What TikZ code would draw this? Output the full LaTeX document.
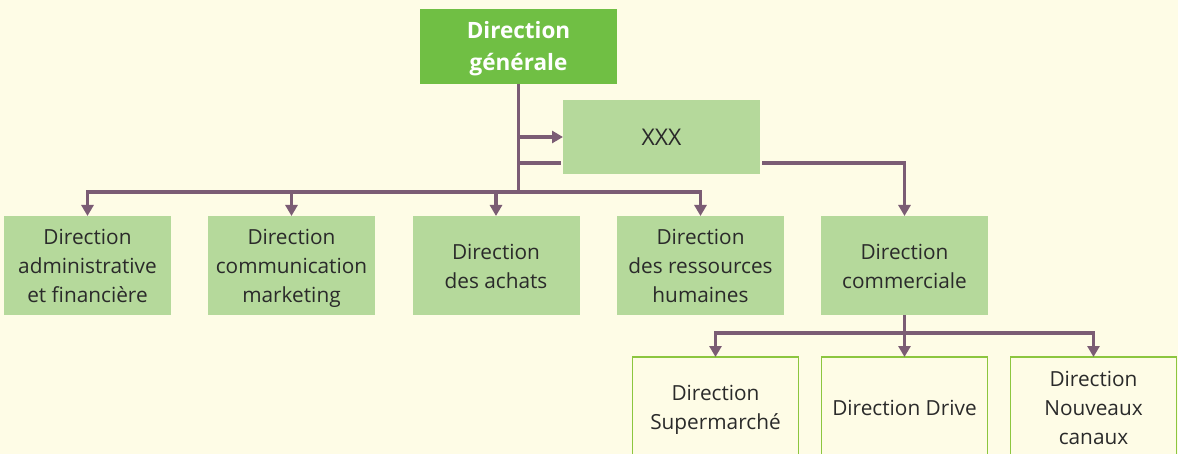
\documentclass[tikz,border=0pt]{standalone}
\usepackage{fontspec}
\setmainfont{Open Sans}
\usetikzlibrary{arrows.meta}
\definecolor{bg}{HTML}{FEFCE6}
\definecolor{dark}{HTML}{70BF44}
\definecolor{light}{HTML}{B5D99B}
\definecolor{edge}{HTML}{8CC63F}
\definecolor{conn}{HTML}{7B5C74}
\definecolor{txt}{HTML}{2A2A2A}
\newcommand\firstln[1][25pt]{\rule{0pt}{#1}}
\tikzset{
  base/.style={align=center, inner sep=0pt, outer sep=0pt, text=txt,
    font=\fontsize{20.8}{29}\selectfont,
    execute at end node={\rule[-8.7pt]{0pt}{1pt}}},
  topbox/.style={base, fill=dark, text=white, minimum width=197pt, minimum height=75pt,
    font=\fontsize{22.5}{32}\selectfont\bfseries,
    execute at end node={\rule[-9.6pt]{0pt}{1pt}}},
  midbox/.style={base, fill=light, minimum width=167pt, minimum height=99pt},
  xbox/.style={base, fill=light, minimum width=197pt, minimum height=74pt,
    font=\fontsize{23}{29}\selectfont},
  lowbox/.style={base, fill=bg, draw=edge, line width=1.5pt, minimum width=166pt, minimum height=100pt},
  link/.style={draw=conn, line width=3.2pt},
  arr/.style={link, -{Triangle[width=12pt,length=11pt]}}
}
\begin{document}
\begin{tikzpicture}[x=1pt,y=-1pt]
\fill[bg] (0,0) rectangle (1178,454);
\useasboundingbox (0,0) rectangle (1178,454);
\clip (0,0) rectangle (1178,454);

\node[topbox] (dg) at (518.5,46.5) {\firstln[26pt]Direction\\générale};
\node[xbox] (xxx) at (661.5,137) {\firstln XXX};

\node[midbox] (d1) at (87.5,265.5) {\firstln Direction\\administrative\\et financière};
\node[midbox] (d2) at (291.5,265.5) {\firstln Direction\\communication\\marketing};
\node[midbox] (d3) at (496,265.5) {\firstln Direction\\des achats};
\node[midbox] (d4) at (700.5,265.5) {\firstln Direction\\des ressources\\humaines};
\node[midbox] (d5) at (904.5,265.5) {\firstln Direction\\commerciale};

\node[lowbox] (s1) at (715.5,407) {\firstln Direction\\Supermarché};
\node[lowbox] (s2) at (904.5,407) {\firstln Direction Drive};
\node[lowbox] (s3) at (1093.5,407) {\firstln Direction\\Nouveaux\\canaux};

\coordinate (j1) at (518.5,137);
\coordinate (j2) at (518.5,163);
\coordinate (bus) at (518.5,192);
\coordinate (bus2) at (904.5,333);

\draw[link] (dg.south) -- (bus);
\draw[arr] (j1) -- (xxx.west |- j1);
\draw[link] (j2) -- ([xshift=-2pt]xxx.west |- j2);
\draw[arr] ([xshift=2pt]xxx.east |- j2) -| (d5.north);
\draw[arr] (bus) -| (d1.north);
\draw[arr] (bus) -| (d2.north);
\draw[arr] (bus) -| (d3.north);
\draw[arr] (bus) -| (d4.north);

\draw[link] (d5.south) -- (bus2);
\draw[arr] (bus2) -| (s1.north);
\draw[arr] (bus2) -- (s2.north);
\draw[arr] (bus2) -| (s3.north);
\end{tikzpicture}
\end{document}
